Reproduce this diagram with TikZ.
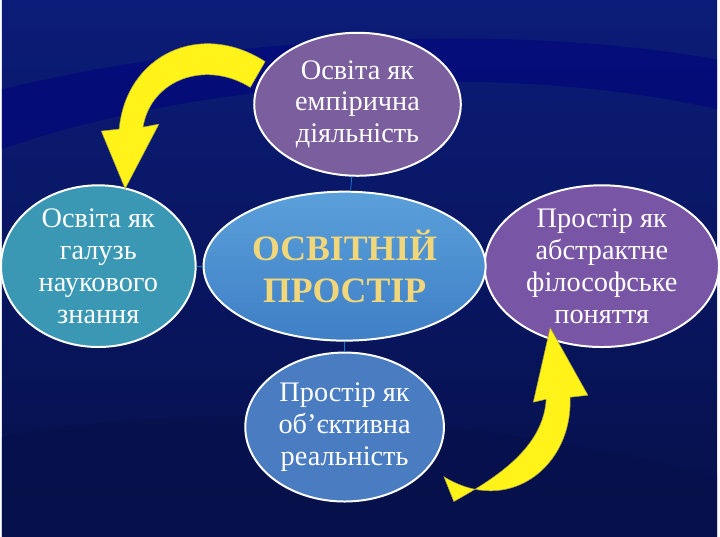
\documentclass[tikz,border=0pt]{standalone}
\usepackage{fontspec}
\setmainfont{Liberation Serif}
\definecolor{bgA}{HTML}{0B1C78}
\definecolor{bgB}{HTML}{06104A}
\definecolor{cTop}{HTML}{7A5E9E}
\definecolor{cLeft}{HTML}{3A98B5}
\definecolor{cRight}{HTML}{7955A5}
\definecolor{cBot}{HTML}{4A7CC2}
\definecolor{cC1}{HTML}{5AA0DA}
\definecolor{cC2}{HTML}{3F7FC6}
\definecolor{cTxt}{HTML}{F2D77A}
\begin{document}
\begin{tikzpicture}[x=1pt,y=-1pt,
  el/.style={ellipse,draw=white,line width=2pt,align=center,font=\fontsize{28.5}{32}\selectfont,text=white,inner sep=0pt},
  conn/.style={draw=cyan!60!blue,line width=0.8pt},
  yarrow/.style={fill=yellow!90!white,draw=yellow!60!black,line width=0.5pt}]
\usetikzlibrary{shapes.geometric}
\fill[top color=bgA,bottom color=bgB] (0,0) rectangle (720,540);
\fill[blue!50!black,opacity=0.5] (0,90) .. controls (200,40) and (500,20) .. (720,60) -- (720,110) .. controls (500,60) and (200,80) .. (0,150) -- cycle;
\fill[bgB,opacity=0.6] (0,440) .. controls (200,400) and (500,420) .. (720,480) -- (720,540) -- (0,540) -- cycle;
\node[el,fill=cTop,minimum width=208,minimum height=144] (top) at (358,105) {Освіта як\\емпірична\\діяльність};
\node[el,fill=cLeft,minimum width=196,minimum height=154] (left) at (97,268) {Освіта як\\галузь\\наукового\\знання};
\node[el,fill=cRight,minimum width=236,minimum height=154] (right) at (604,268) {Простір як\\абстрактне\\філософське\\поняття};
\node[el,fill=cBot,minimum width=200,minimum height=150] (bot) at (345,430) {Простір як\\об’єктивна\\реальність};
\node[ellipse,draw=white,line width=2pt,top color=cC1,bottom color=cC2,minimum width=284,minimum height=150,align=center,font=\bfseries\fontsize{36}{42}\selectfont,text=cTxt,inner sep=0pt] (c) at (345,268) {ОСВІТНІЙ\\ПРОСТІР};
\draw[conn] (top) -- (c);
\draw[conn] (c) -- (bot);
\draw[conn] (left) -- (c);
\path[yarrow] (265,62) .. controls (200,20) and (125,55) .. (118,130)
  -- (100,132) -- (124,190) -- (158,125) -- (142,128)
  .. controls (150,80) and (205,60) .. (250,88) -- cycle;
\path[yarrow] (445,480) .. controls (510,520) and (575,470) .. (572,400)
  -- (590,398) -- (552,330) -- (535,405) -- (548,402)
  .. controls (545,450) and (500,480) .. (455,505) -- cycle;
\end{tikzpicture}
\end{document}
